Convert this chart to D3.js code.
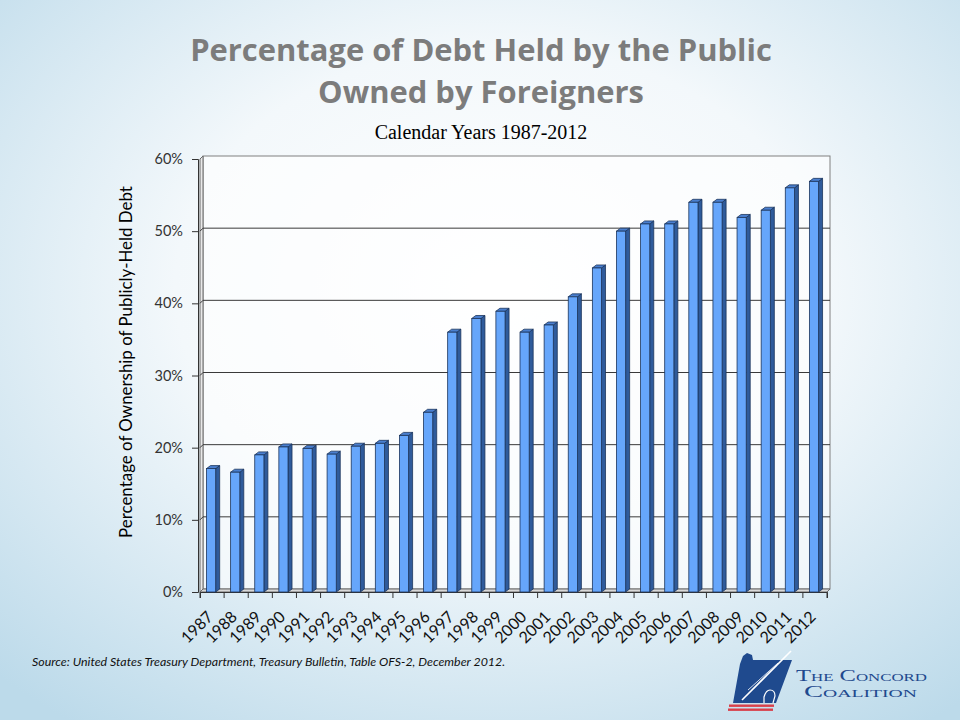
<!DOCTYPE html>
<html><head><meta charset="utf-8">
<script src="https://cdn.jsdelivr.net/npm/d3@7"></script>
<style>html,body{margin:0;padding:0;background:#fff;}svg{display:block;}</style>
</head><body>
<svg id="chart" width="960" height="720"></svg>
<script>
const years = ["1987","1988","1989","1990","1991","1992","1993","1994","1995","1996","1997","1998","1999","2000","2001","2002","2003","2004","2005","2006","2007","2008","2009","2010","2011","2012"];
const shares = [17.1,16.6,19.0,20.1,19.9,19.1,20.2,20.6,21.7,24.9,36.0,37.9,38.9,36.0,37.0,40.9,44.9,50.0,51.0,51.0,54.0,54.0,51.9,52.9,56.0,56.9];
const yTicks = [0,10,20,30,40,50,60];
const titleLines = ["Percentage of Debt Held by the Public","Owned by Foreigners"];
const subtitle = "Calendar Years 1987-2012";
const yLabel = "Percentage of Ownership of Publicly-Held Debt";
const sourceText = "Source: United States Treasury Department, Treasury Bulletin, Table OFS-2, December 2012.";
const logoLines = ["The Concord","Coalition"];

const svg = d3.select("#chart");
const defs = svg.append("defs");
const rg = defs.append("radialGradient").attr("id","bg").attr("cx","52%").attr("cy","40%").attr("r","75%");
rg.append("stop").attr("offset","0%").attr("stop-color","#ffffff");
rg.append("stop").attr("offset","45%").attr("stop-color","#f3f8fb");
rg.append("stop").attr("offset","100%").attr("stop-color","#bcdaea");
svg.append("rect").attr("width",960).attr("height",720).attr("fill","url(#bg)");

function fitWidth(sel, target){
  const fs = +sel.attr("font-size");
  const w = sel.node().getComputedTextLength();
  if (w>0) sel.attr("font-size", fs*target/w);
}

// titles
const t1 = svg.append("text").attr("x",481).attr("y",61).attr("text-anchor","middle")
  .attr("font-family","'Open Sans', Lato, sans-serif").attr("font-weight","bold")
  .attr("font-size",30).attr("fill","#7c7c7c").text(titleLines[0]);
fitWidth(t1, 582);
const tfs = +t1.attr("font-size");
svg.append("text").attr("x",481).attr("y",103).attr("text-anchor","middle")
  .attr("font-family","'Open Sans', Lato, sans-serif").attr("font-weight","bold")
  .attr("font-size",tfs).attr("fill","#7c7c7c").text(titleLines[1]);
svg.append("text").attr("x",481).attr("y",139).attr("text-anchor","middle")
  .attr("font-family","'Liberation Serif', 'DejaVu Serif', serif").attr("font-size",20).attr("fill","#000").text(subtitle);

// scales
const x = d3.scaleBand().domain(years).range([200,827]).padding(0);
const y = d3.scaleLinear().domain([0,60]).range([592,159]);
const dx = 3, dy = -3;

// walls
const g = svg.append("g");
g.append("rect").attr("x",x.range()[0]+dx).attr("y",y(60)+dy).attr("width",x.range()[1]-x.range()[0]).attr("height",y(0)-y(60))
  .attr("fill","#ffffff").attr("fill-opacity",0.6).attr("stroke","#808080").attr("stroke-width",1);
g.append("path").attr("d",`M${x.range()[0]},${y(0)} L${x.range()[0]},${y(60)} L${x.range()[0]+dx},${y(60)+dy} L${x.range()[0]+dx},${y(0)+dy} Z`)
  .attr("fill","#e8e8e8").attr("stroke","#6a6a6a").attr("stroke-width",1);
g.append("path").attr("d",`M${x.range()[0]},${y(0)} L${x.range()[1]},${y(0)} L${x.range()[1]+dx},${y(0)+dy} L${x.range()[0]+dx},${y(0)+dy} Z`)
  .attr("fill","#d8d8d8").attr("stroke","#6a6a6a").attr("stroke-width",1);
yTicks.filter(v=>v>0 && v<60).forEach(v=>{
  g.append("line").attr("x1",x.range()[0]+dx).attr("x2",x.range()[1]+dx).attr("y1",y(v)+dy).attr("y2",y(v)+dy)
    .attr("stroke","#3a3a3a").attr("stroke-width",1);
  g.append("line").attr("x1",x.range()[0]).attr("x2",x.range()[0]+dx).attr("y1",y(v)).attr("y2",y(v)+dy)
    .attr("stroke","#3a3a3a").attr("stroke-width",1);
});

// y axis
const yAxis = d3.axisLeft(y).tickValues(yTicks).tickFormat(d=>d+"%").tickSize(6).tickPadding(9);
const ya = svg.append("g").attr("transform",`translate(${x.range()[0]-2},0)`).call(yAxis);
ya.select(".domain").attr("stroke","#333");
ya.selectAll(".tick line").attr("stroke","#333");
ya.selectAll("text").attr("font-family","Lato, 'Open Sans', sans-serif").attr("font-size",14.5).attr("fill","#333");

// x axis
const xAxis = d3.axisBottom(x).tickSize(6).tickSizeOuter(6);
const xa = svg.append("g").attr("transform",`translate(0,${y(0)})`).call(xAxis);
xa.select(".domain").attr("stroke","#333");
xa.selectAll(".tick line").attr("x1",-x.bandwidth()/2).attr("x2",-x.bandwidth()/2).attr("stroke","#333");
xa.append("line").attr("x1",x.range()[1]).attr("x2",x.range()[1]).attr("y1",0).attr("y2",6).attr("stroke","#333");
xa.selectAll(".tick text").attr("font-family","Lato, 'Open Sans', sans-serif").attr("font-size",16).attr("fill","#111")
  .attr("text-anchor","end").attr("dy","0.35em").attr("y",0)
  .attr("transform","translate(-2,22) rotate(-45)");

// bars
const bw = x.bandwidth()*0.38, off = x.bandwidth()*0.27;
const bars = svg.append("g").selectAll("g").data(years.map((yr,i)=>({yr,v:shares[i]}))).join("g");
bars.append("path").attr("d",d=>{const x0=x(d.yr)+off, x1=x0+bw, yt=y(d.v), yb=y(0);
    return `M${x1},${yb} L${x1},${yt} L${x1+dx+1},${yt+dy} L${x1+dx+1},${yb+dy} Z`;})
  .attr("fill","#2f5b9b").attr("stroke","#1c355c").attr("stroke-width",0.8);
bars.append("path").attr("d",d=>{const x0=x(d.yr)+off, x1=x0+bw, yt=y(d.v);
    return `M${x0},${yt} L${x0+dx+1},${yt+dy} L${x1+dx+1},${yt+dy} L${x1},${yt} Z`;})
  .attr("fill","#4a7fcf").attr("stroke","#1c355c").attr("stroke-width",0.8);
bars.append("rect").attr("x",d=>x(d.yr)+off).attr("y",d=>y(d.v)).attr("width",bw).attr("height",d=>y(0)-y(d.v))
  .attr("fill","#66a6fb").attr("stroke","#1c355c").attr("stroke-width",0.8);

// y label
const yl = svg.append("text").attr("transform","translate(132,362) rotate(-90)").attr("text-anchor","middle")
  .attr("font-family","Lato, 'Open Sans', sans-serif").attr("font-size",15).attr("fill","#000").text(yLabel);
fitWidth(yl, 352);

// source
svg.append("text").attr("x",32).attr("y",666).attr("font-family","Lato, 'Open Sans', sans-serif").attr("font-style","italic")
  .attr("font-size",12.4).attr("fill","#111").text(sourceText);

// logo
const logo = svg.append("g");
logo.append("path").attr("d","M740,664 L743,656 L747,653 L752,655 L753,660 L792,660 L776,703 L733,703 Z").attr("fill","#1f4a8e");
logo.append("path").attr("d","M742,700 L791,651").attr("stroke","#ffffff").attr("stroke-width",1.6);
logo.append("path").attr("d","M748,690 L778,663").attr("stroke","#ffffff").attr("stroke-width",0.8);
logo.append("path").attr("d","M764,703 L764,697 Q766,690 770,690 Q775,690 775,696 L773,703").attr("fill","none").attr("stroke","#ffffff").attr("stroke-width",1.2);
logo.append("rect").attr("x",729).attr("y",704.5).attr("width",45).attr("height",2.4).attr("fill","#d9404a");
logo.append("rect").attr("x",728).attr("y",708.5).attr("width",45).attr("height",2.4).attr("fill","#d9404a");
logo.append("text").attr("x",796).attr("y",681).attr("font-family","'Liberation Serif', serif").attr("font-size",16)
  .attr("fill","#1f4a8e").attr("font-variant","small-caps").attr("textLength",131).attr("lengthAdjust","spacingAndGlyphs").text(logoLines[0]);
logo.append("text").attr("x",804).attr("y",697).attr("font-family","'Liberation Serif', serif").attr("font-size",16)
  .attr("fill","#1f4a8e").attr("font-variant","small-caps").attr("textLength",113).attr("lengthAdjust","spacingAndGlyphs").text(logoLines[1]);
</script>
</body></html>
